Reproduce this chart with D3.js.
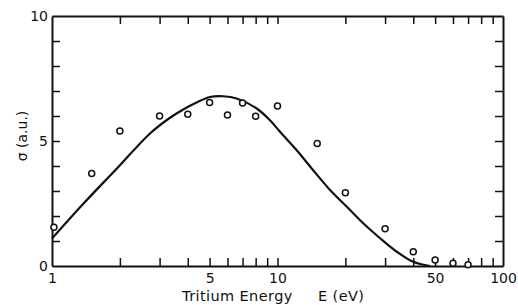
<!DOCTYPE html>
<html>
<head>
<meta charset="utf-8">
<script src="https://cdn.jsdelivr.net/npm/d3@7"></script>
<style>
  body { margin: 0; background: #fff; }
  svg text { font-family: "DejaVu Sans", sans-serif; fill: #111; }
  .axis path, .axis line { stroke: #111; }
</style>
</head>
<body>
<div id="chart"></div>
<script>
// measured points (tritium energy in eV, cross section in a.u.)
const pointEnergy = [1.02, 1.5, 2, 3, 4, 5, 6, 7, 8, 10, 15, 20, 30, 40, 50, 60, 70]
const pointSigma = [1.55, 3.7, 5.4, 6.0, 6.07, 6.54, 6.04, 6.52, 5.99, 6.4, 4.9, 2.93, 1.49, 0.57, 0.24, 0.11, 0.05]

// fitted curve
const curveEnergy = [1, 1.38, 1.94, 2.72, 3.3, 3.82, 4.4, 5.02, 5.75, 6.59, 8.09, 9.26, 10.26, 12.17, 14.4, 17.1, 20.3, 24, 28.5, 33.8, 40, 47.5]
const curveSigma = [1.1, 2.5, 3.9, 5.3, 5.9, 6.26, 6.55, 6.76, 6.79, 6.7, 6.3, 5.83, 5.37, 4.63, 3.83, 3.04, 2.37, 1.71, 1.11, 0.57, 0.17, 0]

const xMinorTicks = [2, 3, 4, 5, 6, 7, 8, 9, 10, 20, 30, 40, 50, 60, 70, 80, 90]
const xLabelTicks = [1, 5, 10, 50, 100]
const yMinorTicks = [1, 2, 3, 4, 5, 6, 7, 8, 9]
const yLabelTicks = [0, 5, 10]

const width = 518
const height = 305
const margin = { top: 16, right: 15, bottom: 39, left: 52 }

const svg = d3.select('#chart').append('svg')
    .attr('width', width)
    .attr('height', height)

const x = d3.scaleLog()
    .domain([1, 100])
    .range([margin.left, width - margin.right])

const y = d3.scaleLinear()
    .domain([0, 10])
    .range([height - margin.bottom, margin.top])

const bottom = height - margin.bottom
const right = width - margin.right

// inward ticks on all four sides
svg.append('g')
    .attr('class', 'axis')
    .attr('transform', `translate(0,${bottom})`)
    .call(d3.axisBottom(x).tickValues(xMinorTicks).tickSize(-8).tickSizeOuter(0).tickFormat(''))

svg.append('g')
    .attr('class', 'axis')
    .attr('transform', `translate(0,${margin.top})`)
    .call(d3.axisTop(x).tickValues(xMinorTicks).tickSize(-8).tickSizeOuter(0).tickFormat(''))

svg.append('g')
    .attr('class', 'axis')
    .attr('transform', `translate(${margin.left},0)`)
    .call(d3.axisLeft(y).tickValues(yMinorTicks).tickSize(-8).tickSizeOuter(0).tickFormat(''))

svg.append('g')
    .attr('class', 'axis')
    .attr('transform', `translate(${right},0)`)
    .call(d3.axisRight(y).tickValues(yMinorTicks).tickSize(-8).tickSizeOuter(0).tickFormat(''))

svg.selectAll('.axis path').attr('stroke-width', 2)
svg.selectAll('.axis line').attr('stroke-width', 1.5)

// tick labels
const xLab = svg.append('g')
    .attr('transform', `translate(0,${bottom})`)
    .call(d3.axisBottom(x).tickValues(xLabelTicks).tickSize(0).tickPadding(7).tickFormat(d3.format('d')))
xLab.select('.domain').remove()
xLab.selectAll('text').attr('font-size', 14).attr('font-family', '"DejaVu Sans", sans-serif').attr('fill', '#111')

const yLab = svg.append('g')
    .attr('transform', `translate(${margin.left},0)`)
    .call(d3.axisLeft(y).tickValues(yLabelTicks).tickSize(0).tickPadding(4).tickFormat(d3.format('d')))
yLab.select('.domain').remove()
yLab.selectAll('text').attr('font-size', 14).attr('font-family', '"DejaVu Sans", sans-serif').attr('fill', '#111')

// axis titles
svg.append('text')
    .attr('x', 182)
    .attr('y', 301)
    .attr('font-size', 14.5)
    .attr('letter-spacing', 0.4)
    .text('Tritium Energy')

svg.append('text')
    .attr('x', 318)
    .attr('y', 301)
    .attr('font-size', 14.5)
    .attr('letter-spacing', 0.4)
    .text('E (eV)')

svg.append('text')
    .attr('transform', `translate(27,136) rotate(-90)`)
    .attr('text-anchor', 'middle')
    .attr('font-size', 14)
    .text('σ (a.u.)')

// fitted curve
const line = d3.line()
    .x((d, i) => x(curveEnergy[i]))
    .y(d => y(d))
    .curve(d3.curveCatmullRom.alpha(0.5))

svg.append('path')
    .datum(curveSigma)
    .attr('fill', 'none')
    .attr('stroke', '#111')
    .attr('stroke-width', 2.2)
    .attr('d', line)

// data points
svg.append('g')
    .selectAll('circle')
    .data(pointSigma)
    .join('circle')
    .attr('cx', (d, i) => x(pointEnergy[i]))
    .attr('cy', d => y(d))
    .attr('r', 3)
    .attr('fill', '#fff')
    .attr('stroke', '#111')
    .attr('stroke-width', 1.5)
</script>
</body>
</html>
